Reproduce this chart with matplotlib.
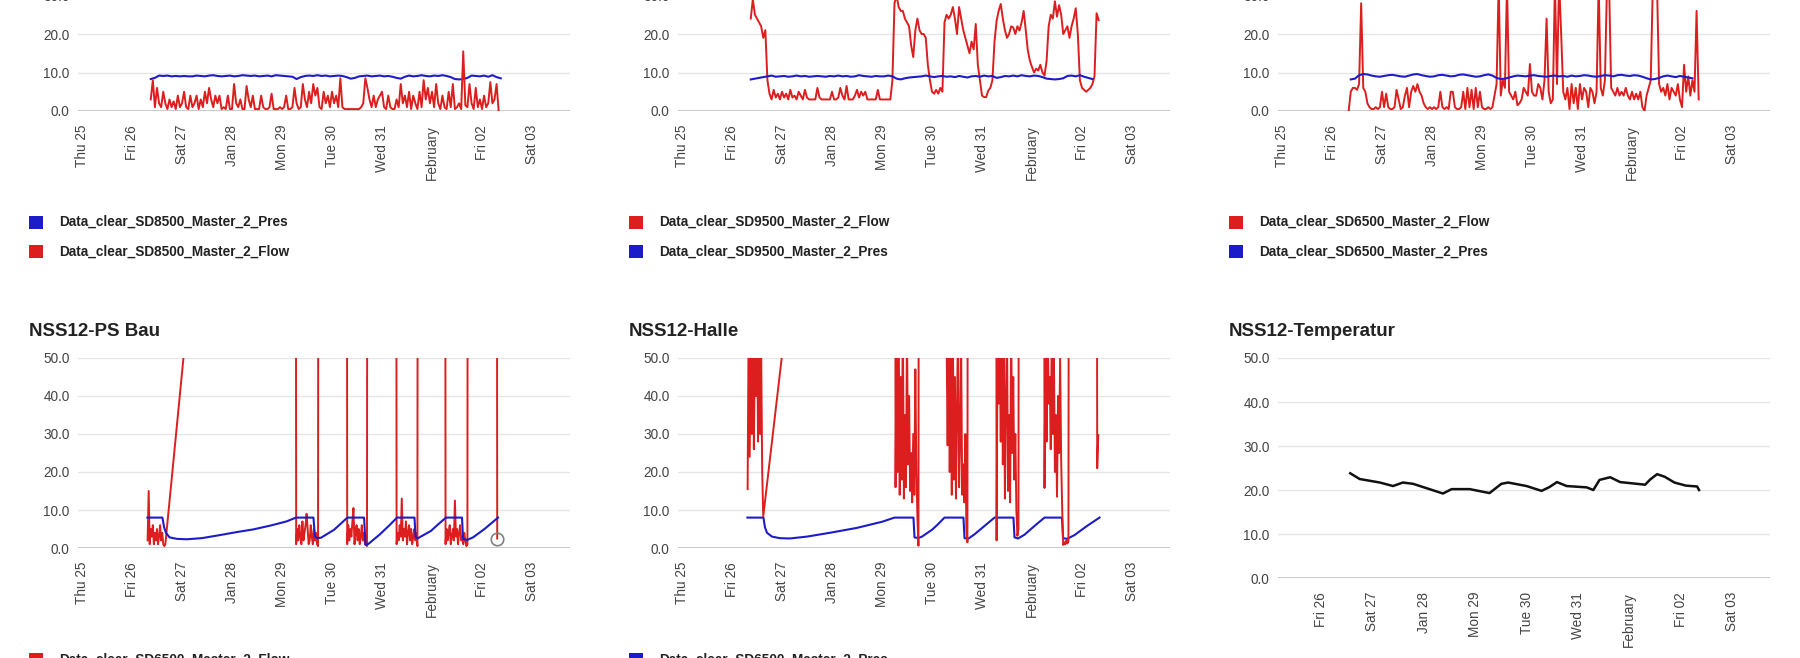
import matplotlib.pyplot as plt
import numpy as np
from matplotlib.patches import Rectangle

plt.rcParams['font.family'] = ['Liberation Sans', 'DejaVu Sans']

# ---- data (time in hours since Thu 25 Jan 00:00) ----
day_labels = ['Thu 25', 'Fri 26', 'Sat 27', 'Jan 28', 'Mon 29', 'Tue 30',
              'Wed 31', 'February', 'Fri 02', 'Sat 03']

# SD8500 (hourly flow from 33h, 2-hourly pressure from 33h)
sd8500_flow = [3, 8, 1, 6, 2, 1, 5, 2, 0.5, 3, 1, 2.5, 0.5, 4, 1,
               2, 5, 1, 0.5, 4, 1, 2, 4, 0.5, 3, 1, 5, 2, 6, 3, 1, 4, 2, 4, 0.5, 1, 0.5, 4, 0.5,
               0.5, 7, 2, 1, 3, 0.5, 0.5, 6.5, 3, 1, 4, 0.5, 0.5, 0.5, 4, 1, 0.5, 0.5, 1, 4.5, 0.5, 0.5, 0.5, 1,
               0.5, 1, 4, 0.5, 0.5, 1, 6, 2, 0.5, 1, 7, 3, 1, 5, 2, 7, 4, 6, 1, 0.5, 5, 2, 4, 1,
               5, 2, 4, 1, 8.5, 1, 0.5, 0.5, 0.5, 0.5, 0.5, 0.5, 0.5, 0.5, 1, 2, 8.5, 6, 3, 1, 4, 1, 3, 4,
               5, 1, 0.5, 4, 1, 0.5, 0.5, 3, 1, 7, 2, 4, 1, 5, 0.5, 4, 2, 0.5, 5, 1, 8, 3, 6, 2,
               5, 1, 7, 2, 0.5, 4, 1, 0.5, 5, 1, 7, 0.5, 1, 2, 0.5, 15.5, 1.5, 1, 7, 2, 0.5, 6, 1, 3,
               0.5, 4, 1, 2, 7.5, 2, 3, 7, 0]
sd8500_pres = [8.3, 8.6, 9.2, 9.1, 9.2, 9.0, 9.1, 9.0, 9.1, 9.0, 9.0, 9.2, 9.1, 9.0, 9.2, 9.3,
               9.1, 9.0, 9.1, 9.2, 9.0, 9.1, 9.3, 9.2, 9.1, 9.2, 9.0, 9.1, 9.2, 9.0, 9.3, 9.2,
               9.1, 9.0, 8.9, 8.3, 8.8, 9.1, 9.2, 9.1, 9.3, 9.1, 9.2, 9.0, 9.1, 9.2, 9.1, 8.8,
               8.4, 8.6, 9.0, 9.1, 9.2, 9.0, 9.1, 9.2, 9.0, 9.1, 8.9, 8.6, 8.4, 8.9, 9.2, 9.0,
               9.1, 9.3, 9.1, 9.0, 9.2, 9.1, 9.3, 9.1, 8.8, 8.3, 8.2, 8.3, 8.6, 9.2, 9.1, 9.0,
               9.2, 8.9, 9.3, 8.8, 8.5]

# SD9500
sd9500_flow = [24, 29, 25, 24, 23, 22, 19, 21, 8, 4.5, 3, 5.5, 3.5, 4.5, 3,
               5, 3.5, 4.5, 3, 5.5, 3.5, 4, 3, 5, 4, 3, 5.5, 3.5, 3, 3, 3, 3, 6, 3.5, 3, 3, 3, 3, 3,
               5, 3, 3, 3.5, 6, 4, 3, 6.5, 3, 3, 3, 4, 5.5, 3.5, 5, 4, 5, 3, 3, 3, 3, 3, 5.5, 3,
               3, 3, 3, 3, 3, 8, 28, 30, 27, 26, 26, 24, 23, 22, 17, 14, 21, 24, 21, 20, 20, 19, 12, 8,
               5, 4.5, 5.5, 4.5, 6, 5, 23, 25, 24, 25, 27, 24, 20, 27, 24, 21, 19, 17, 15, 18, 16, 22.6, 12, 8,
               4, 3.6, 3.6, 5.3, 6, 8, 18, 23.4, 26, 27.8, 24, 21, 19, 20, 22, 21.7, 20, 22, 20.9, 23, 26, 21, 15.7, 13,
               11.4, 10, 11, 10.5, 12, 10, 9.2, 13, 22, 25, 24, 28.5, 24.5, 27.5, 25, 20, 21, 22, 19, 22, 24, 26.7, 20, 8,
               6, 5.5, 5, 5.5, 6, 7, 9, 25.4, 23.6]
sd9500_pres = [8.2, 8.4, 8.6, 8.8, 9.0, 9.2, 8.9, 9.0, 9.1, 8.9, 9.0, 9.2, 9.0, 9.1, 8.9, 9.0,
               9.1, 9.0, 8.9, 9.1, 9.0, 9.2, 9.0, 9.1, 8.9, 9.0, 9.3, 9.1, 9.0, 8.9, 9.1, 9.0,
               9.0, 9.2, 9.0, 8.4, 8.2, 8.5, 8.7, 8.8, 8.9, 9.0, 9.2, 9.0, 8.8, 9.0, 9.1, 8.9,
               9.0, 8.8, 9.1, 8.9, 8.7, 9.0, 9.1, 8.9, 9.2, 9.0, 9.1, 8.6, 8.8, 9.1, 9.0, 9.2,
               9.0, 9.3, 9.1, 9.0, 9.2, 9.1, 8.8, 8.4, 8.3, 8.2, 8.3, 8.5, 9.1, 9.2, 9.0, 9.3,
               8.9, 8.6, 8.3]

# SD6500 (flow from 32h)
sd6500_flow = [0, 5, 6, 6, 5.5, 7, 28, 6, 5, 2, 1, 0.5, 0.5, 1, 0.5, 1,
               5, 1, 4.5, 1, 0.5, 0.5, 1, 5.5, 3, 0.5, 1, 4, 6, 1, 5, 6.5, 5, 7, 5, 4, 2, 1, 0.5, 1,
               0.5, 1, 0.5, 1, 5, 1, 0.5, 1, 0.5, 5, 5, 1, 0.5, 0.5, 1, 5, 0.5, 6, 1, 5.5, 0.5, 6, 1, 5,
               1, 0.5, 0.5, 1, 0.5, 1, 4, 7, 33, 4, 8, 6, 33, 5, 4, 3, 5, 1.5, 2, 3, 6, 5, 4, 12.2,
               5, 4, 4, 7, 6, 3, 8, 24, 5, 2, 3, 33, 7, 34, 20, 5, 3, 6, 0.5, 7, 2, 6, 0.5, 7,
               3, 6, 5, 1, 6, 5, 2, 5, 33, 6, 4, 8, 33, 33, 6, 5, 4, 6, 4, 5, 4, 6, 4, 3,
               5, 3, 4.5, 3, 5, 1, 0, 4, 6, 8, 33, 34, 33, 7, 5, 6, 4, 7, 3, 6, 5, 4, 7, 3,
               1, 12, 5, 9, 4, 8, 5, 26, 3]
sd6500_pres = [8.2, 8.4, 9.3, 9.6, 9.5, 9.2, 9.0, 8.9, 9.1, 9.3, 9.4, 9.2, 9.0, 8.9, 9.2, 9.5,
               9.6, 9.3, 9.1, 8.9, 9.0, 9.3, 9.4, 9.2, 9.0, 9.1, 9.4, 9.5, 9.3, 9.1, 8.9, 9.0,
               9.3, 9.5, 9.2, 8.6, 8.3, 8.4, 8.7, 9.0, 9.2, 9.1, 9.0, 9.2, 9.3, 9.1, 9.0, 8.9,
               9.1, 9.2, 9.0, 9.1, 8.9, 9.2, 9.0, 9.1, 9.3, 9.2, 9.0, 8.9, 9.1, 9.3, 9.2, 9.0,
               9.3, 9.4, 9.2, 9.1, 9.3, 9.2, 8.9, 8.5, 8.2, 8.3, 8.6, 9.0, 9.2, 9.0, 8.8, 9.1,
               8.9, 8.7, 8.5]

# NSS12-PS Bau: flow runs (half-hourly), out-of-range gap samples, pressure
bau_run_start = [31.5, 102.8, 127.3, 151.0, 174.5, 199.3]
bau_runs = [[2, 15, 1, 5, 3, 6, 1, 4, 2, 5, 1, 3, 6, 2, 4, 1, 0.5, 1],
            [1, 5, 2, 6, 3, 1, 7, 2, 4, 6, 9, 5, 1, 2, 6, 3, 1, 5, 2, 4, 1, 0.5],
            [1, 6, 2, 5, 3, 7, 10.5, 1, 4, 6, 2, 5, 1, 3, 6, 2, 4, 1, 3, 0.5],
            [1, 4, 2, 6, 3, 13, 2, 5, 3, 7, 1, 4, 6, 2, 5, 1, 3, 5, 2, 4, 0.5],
            [1, 5, 2, 4, 6, 1, 3, 5, 2, 12.5, 3, 5, 1, 4, 6, 2, 3, 1, 4, 2, 0.5, 1],
            [2.5]]
bau_gap_h = [102.3, 113.8, 126.8, 137.3, 150.5, 161.5, 174.0, 185.5, 198.8]
bau_gap_v = [352, 400, 400, 400, 400, 400, 400, 400, 400]
bau_pres_h = [31.4, 38.6, 39.4, 40.3, 42.0, 45.6, 50.4, 57.6, 66.2, 74.4, 82.3, 91.2, 98.2, 102.7,
              111.1, 111.8, 113.3, 114.7, 121.0, 127.4, 135.4, 136.1, 137.3, 143.0, 147.6, 151.2,
              159.6, 160.1, 161.0, 167.5, 170.9, 174.7, 182.4, 182.9, 184.8, 187.7, 193.2, 199.7]
bau_pres_v = [8.0, 8.0, 5.5, 4.0, 2.8, 2.4, 2.3, 2.6, 3.4, 4.2, 4.9, 6.0, 7.0, 8.0,
              8.0, 3.0, 2.6, 2.7, 4.8, 8.0, 8.0, 0.8, 1.0, 3.6, 6.0, 8.0,
              8.0, 3.0, 2.5, 4.5, 6.2, 8.0, 8.0, 2.4, 2.1, 2.8, 5.0, 8.0]

# NSS12-Halle
halle_run_start = [31.5, 102.5, 127.0, 151.0, 174.0, 199.3]
halle_runs = [[15.5, 60, 24, 58, 30, 62, 26, 55, 40, 65, 28, 57, 30, 52, 20, 8.3],
              [16, 55, 20, 60, 14, 45, 18, 62, 13, 35, 16, 58, 22, 40, 15, 25, 12, 30, 14, 47, 20, 8, 0.6],
              [55, 27, 60, 20, 50, 14, 58, 18, 45, 13, 36, 60, 16, 28, 52, 14, 22, 12, 30, 5, 1.5],
              [2, 60, 38, 55, 28, 62, 22, 50, 13, 40, 58, 15, 35, 12, 60, 25, 45, 18, 30, 10, 3.2, 5],
              [15.8, 55, 28, 60, 38, 45, 26, 58, 30, 52, 20, 35, 13.5, 40, 25, 50, 23, 10, 0.8,
               1.5, 1, 2, 1.2, 1.8],
              [21, 29.7]]
halle_gap_h = [102.0, 114.0, 126.5, 137.5, 150.5, 162.0, 173.5, 186.0, 198.8]
halle_gap_v = [305, 300, 300, 300, 300, 300, 300, 300, 300]
halle_pres_h = [31.4, 39.1, 39.8, 40.8, 43.2, 46.8, 51.6, 60.0, 72.0, 84.0, 96.0, 102.0,
                111.1, 111.6, 113.3, 115.2, 120.0, 122.4, 126.0, 135.1, 135.6, 137.3, 140.4,
                145.2, 150.0, 159.1, 159.6, 161.3, 164.4, 169.2, 174.0, 182.4, 182.9, 184.8,
                188.4, 194.4, 200.4]
halle_pres_v = [8.0, 8.0, 5.5, 4.0, 3.0, 2.6, 2.5, 3.0, 4.1, 5.3, 6.9, 8.0,
                8.0, 2.8, 2.6, 3.0, 4.8, 6.0, 8.0, 8.0, 2.6, 2.4, 3.6,
                5.8, 8.0, 8.0, 2.8, 2.5, 3.5, 5.8, 8.0, 8.0, 2.6, 2.4,
                3.4, 5.8, 8.0]

# NSS12-Temperatur
temp_h = [37.6, 42.0, 51.4, 57.6, 62.2, 67.0, 74.6, 80.9, 85.0, 93.4, 102.7, 108.2, 111.4,
          120.0, 127.0, 130.8, 134.2, 138.7, 148.1, 151.2, 154.1, 159.1, 163.7, 171.6,
          175.4, 177.8, 181.0, 184.6, 189.1, 194.4, 199.7, 200.6]
temp_v = [23.8, 22.5, 21.7, 20.9, 21.7, 21.4, 20.2, 19.2, 20.2, 20.2, 19.3, 21.4, 21.7,
          20.9, 19.8, 20.7, 21.8, 20.9, 20.6, 20.0, 22.3, 22.9, 21.8, 21.4,
          21.2, 22.4, 23.6, 23.0, 21.7, 21.0, 20.8, 20.0]

RED = '#dc1e1e'
BLUE = '#1c1cc8'
W, H = 1800, 658


def regular(start_h, vals, step):
    return (start_h + step * np.arange(len(vals))) / 24.0


def runs_series(starts, runs, gap_h, gap_v):
    t, v = [], []
    for s, r in zip(starts, runs):
        t += list(s + 0.5 * np.arange(len(r)))
        v += list(r)
    t += gap_h
    v += gap_v
    order = np.argsort(t)
    return np.array(t)[order] / 24.0, np.array(v)[order]


fig = plt.figure(figsize=(W / 100, H / 100), dpi=100)


def px_axes(x0, y_top, x1, y_bottom):
    return fig.add_axes([x0 / W, 1 - y_bottom / H, (x1 - x0) / W, (y_bottom - y_top) / H])


def style(ax, ymax, xlim, first_day=0):
    ax.set_xlim(*xlim)
    ax.set_ylim(0, ymax)
    for s in ax.spines.values():
        s.set_visible(False)
    yt = np.arange(0, ymax + 1, 10)
    ax.set_yticks(yt)
    ax.set_yticklabels([f'{v:.1f}' for v in yt])
    ax.set_xticks(np.arange(first_day, 10))
    ax.set_xticklabels(day_labels[first_day:], rotation=90)
    ax.tick_params(axis='both', length=0, labelsize=9.8, labelcolor='#444444')
    ax.tick_params(axis='x', pad=10)
    ax.tick_params(axis='y', pad=6)
    ax.grid(axis='y', color='#e6e6e6', lw=1)
    ax.grid(axis='x', visible=False)
    ax.set_axisbelow(True)
    ax.axhline(0, color='#c6c6c6', lw=2, zorder=1)
    ax.patch.set_alpha(0)


def legend(col, y, color, text):
    x = col * 600
    fig.add_artist(Rectangle(((x + 29) / W, 1 - (y + 6.5) / H), 14 / W, 13 / H,
                             transform=fig.transFigure, color=color, lw=0))
    fig.text((x + 59) / W, 1 - y / H, text, va='center', ha='left',
             fontsize=9.8, fontweight='bold', color='#222222')


def title(col, text):
    fig.text((col * 600 + 29) / W, 1 - 332 / H, text, va='center', ha='left',
             fontsize=13.5, fontweight='bold', color='#222222')


XLIM = (-0.08, 9.76)
top_y0 = 111 - 30 * 3.85

# top row
ax = px_axes(78, top_y0, 570, 111)
style(ax, 30, XLIM)
ax.plot(regular(33, sd8500_pres, 2), sd8500_pres, color=BLUE, lw=1.5)
ax.plot(regular(33, sd8500_flow, 1), sd8500_flow, color=RED, lw=1.4)
legend(0, 222, BLUE, 'Data_clear_SD8500_Master_2_Pres')
legend(0, 252, RED, 'Data_clear_SD8500_Master_2_Flow')

ax = px_axes(678, top_y0, 1170, 111)
style(ax, 30, XLIM)
ax.plot(regular(33, sd9500_flow, 1), sd9500_flow, color=RED, lw=1.4)
ax.plot(regular(33, sd9500_pres, 2), sd9500_pres, color=BLUE, lw=1.5)
legend(1, 222, RED, 'Data_clear_SD9500_Master_2_Flow')
legend(1, 252, BLUE, 'Data_clear_SD9500_Master_2_Pres')

ax = px_axes(1278, top_y0, 1770, 111)
style(ax, 30, XLIM)
ax.plot(regular(32, sd6500_flow, 1), sd6500_flow, color=RED, lw=1.4)
ax.plot(regular(33, sd6500_pres, 2), sd6500_pres, color=BLUE, lw=1.5)
legend(2, 222, RED, 'Data_clear_SD6500_Master_2_Flow')
legend(2, 252, BLUE, 'Data_clear_SD6500_Master_2_Pres')

# bottom row
ax = px_axes(78, 358, 570, 548)
style(ax, 50, XLIM)
bt, bv = runs_series(bau_run_start, bau_runs, bau_gap_h, bau_gap_v)
ax.plot(bt, bv, color=RED, lw=1.4)
ax.plot(np.array(bau_pres_h) / 24, bau_pres_v, color=BLUE, lw=1.5)
ax.plot([bt[-1]], [bv[-1]], 'o', mfc='none', mec='#808080', ms=9, mew=1.2, clip_on=False)
title(0, 'NSS12-PS Bau')
legend(0, 660, RED, 'Data_clear_SD6500_Master_2_Flow')

ax = px_axes(678, 358, 1170, 548)
style(ax, 50, XLIM)
ax.plot(np.array(halle_pres_h) / 24, halle_pres_v, color=BLUE, lw=1.5)
ht, hv = runs_series(halle_run_start, halle_runs, halle_gap_h, halle_gap_v)
ax.plot(ht, hv, color=RED, lw=1.4)
title(1, 'NSS12-Halle')
legend(1, 660, BLUE, 'Data_clear_SD6500_Master_2_Pres')

ax = px_axes(1278, 358, 1770, 578)
style(ax, 50, (0.16, 9.74), first_day=1)
ax.plot(np.array(temp_h) / 24, temp_v, color='#111111', lw=1.8)
title(2, 'NSS12-Temperatur')

fig.savefig('out.png', dpi=100, facecolor='white')
